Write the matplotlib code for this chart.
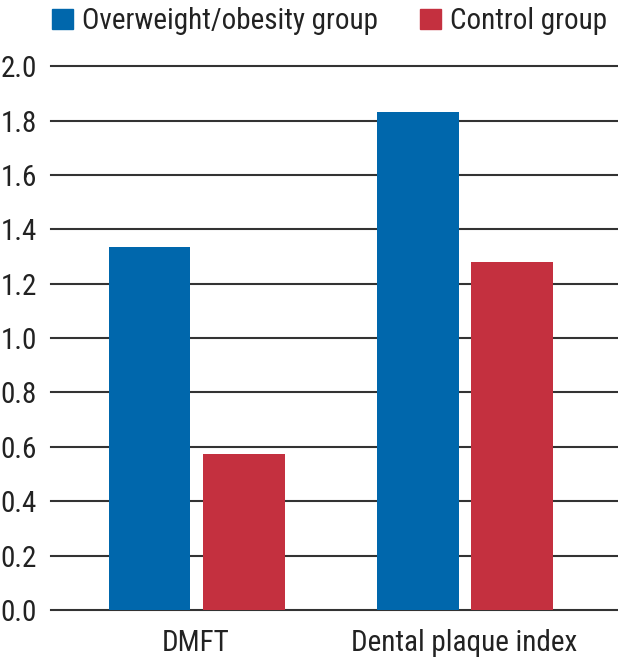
import numpy as np
import matplotlib.pyplot as plt
from matplotlib.patches import Patch

# data
categories = ["DMFT", "Dental plaque index"]
overweight = [1.335, 1.83]
control = [0.575, 1.28]
series_names = ["Overweight/obesity group", "Control group"]
yticks = [0.0, 0.2, 0.4, 0.6, 0.8, 1.0, 1.2, 1.4, 1.6, 1.8, 2.0]

BLUE = "#0067AC"
RED = "#C4303F"
TXT = "#222222"

plt.rcParams["font.family"] = ["Roboto Condensed", "DejaVu Sans"]
plt.rcParams["font.weight"] = "normal"

fig = plt.figure(figsize=(6.18, 6.62), dpi=100)
ax = fig.add_axes([0.0825, 0.0785, 0.9175, 0.8215])

x = np.arange(len(categories))
w = 0.305
ax.bar(x - 0.173, overweight, width=w, color=BLUE, zorder=3)
ax.bar(x + 0.178, control, width=w, color=RED, zorder=3)

for t in yticks:
    ax.axhline(t, color="#333333", linewidth=1.5, zorder=2, clip_on=False)

ax.set_xlim(-0.54, 1.572)
ax.set_ylim(0, 2.0)
ax.set_yticks(yticks)
ax.set_yticklabels([f"{t:.1f}" for t in yticks], fontsize=21, color=TXT)
ax.set_xticks(x)
ax.set_xticklabels(categories, fontsize=21, color=TXT)
ax.tick_params(axis="x", length=0, pad=14)
ax.tick_params(axis="y", length=0, pad=10)
for s in ax.spines.values():
    s.set_visible(False)

handles = [Patch(color=BLUE), Patch(color=RED)]
fig.legend(handles, series_names, loc="upper left", bbox_to_anchor=(0.041, 1.029),
           ncol=2, frameon=False, fontsize=21, handlelength=0.72, handleheight=0.7,
           handletextpad=0.31, columnspacing=1.45, labelcolor=TXT)

fig.savefig("out.png", dpi=100)
